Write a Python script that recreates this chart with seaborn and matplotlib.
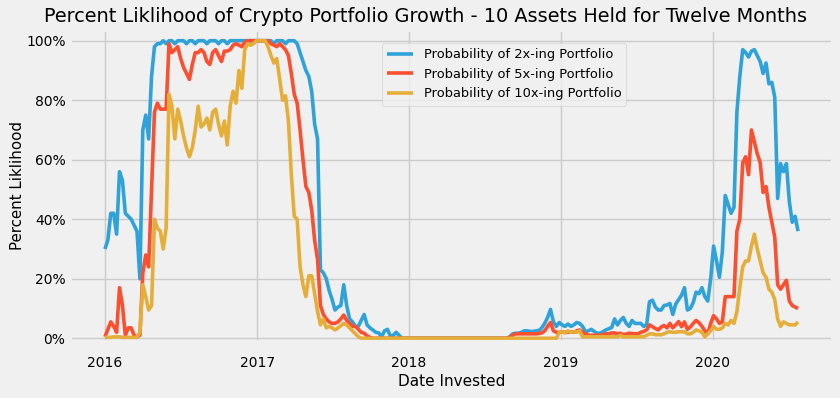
import pandas as pd
import matplotlib
matplotlib.use("Agg")
import matplotlib.pyplot as plt
import matplotlib.dates as mdates
from matplotlib.ticker import PercentFormatter
import seaborn as sns

plt.style.use("fivethirtyeight")

# weekly investment dates starting Jan 2016, values in percent
start_date = "2016-01-01"
labels = ["Probability of 2x-ing Portfolio",
          "Probability of 5x-ing Portfolio",
          "Probability of 10x-ing Portfolio"]
colors = ["#30a2da", "#fc4f30", "#e5ae38"]

p2x = [30, 33, 42, 42, 35, 56, 53, 42, 41, 40,
       38, 36, 20, 70, 75, 67, 88, 98, 99, 99,
       100, 99, 100, 100, 99, 100, 100, 100, 99, 100,
       100, 99, 100, 100, 100, 99, 100, 100, 100, 99,
       100, 100, 99, 100, 100, 100, 100, 100, 100, 100,
       100, 100, 100, 100, 100, 100, 100, 100, 99, 100,
       100, 100, 99, 100, 100, 100, 99, 96, 93, 90,
       88, 83, 72, 67, 23, 22, 20, 16, 13, 9.5,
       10.5, 11, 18, 11, 6.5, 5.5, 4, 4, 6, 8,
       4.5, 3.5, 2.8, 2, 1.8, 0.5, 2.5, 3, 0.8, 1,
       2, 1, 0, 0, 0, 0, 0, 0, 0, 0,
       0, 0, 0, 0, 0, 0, 0, 0, 0, 0,
       0, 0, 0, 0, 0, 0, 0, 0, 0, 0,
       0, 0, 0, 0, 0, 0, 0, 0, 0, 0.5,
       1.5, 1.7, 1.7, 2, 2.5, 2.5, 2.3, 2.3, 2.5, 2.6,
       3.5, 5, 7, 9.7, 5.5, 4, 5.3, 4.5, 4, 4.8,
       4, 4.5, 5.3, 5, 4, 2.2, 2.5, 3, 2.3, 1.7,
       1.7, 2.2, 2.8, 3.2, 3.6, 6.5, 4.5, 6, 7, 5,
       4, 6, 5, 5, 5, 4, 4.5, 12.3, 12.8, 10.5,
       9.5, 9.5, 11, 11.2, 11.7, 8, 11.5, 13, 14.5, 17,
       9.5, 10, 12, 15.5, 15, 17, 14, 12.5, 20, 31,
       26, 20.5, 29, 48, 45, 42, 44, 76, 88, 97,
       96, 94.5, 96.5, 97, 95, 93, 89, 92.5, 85.5, 86,
       81, 47, 58.7, 56, 58.7, 46, 39, 41, 36]

p5x = [0.5, 3, 5.5, 4, 2, 17, 11, 1, 3.5, 3.5,
       1, 0.5, 1, 22, 28, 24, 50, 76, 79, 77,
       77, 77, 99, 96, 97, 98, 94, 91, 89, 87,
       92, 96, 96, 97, 96, 93, 92, 96, 97, 95,
       93, 96.5, 96.5, 97, 98.5, 99, 98.5, 98, 99.5, 100,
       100, 100, 100, 100, 100, 100, 100, 99, 98.5, 98,
       99, 98, 97, 95, 89, 82, 79, 70, 60, 51,
       49, 43, 33, 26.5, 11, 8, 6.5, 5.5, 5, 5,
       5.5, 6.5, 7.8, 6, 5, 4, 4, 3, 2, 1.7,
       0.8, 0.3, 0, 0, 0, 0, 0, 0, 0, 0,
       0, 0, 0, 0, 0, 0, 0, 0, 0, 0,
       0, 0, 0, 0, 0, 0, 0, 0, 0, 0,
       0, 0, 0, 0, 0, 0, 0, 0, 0, 0,
       0, 0, 0, 0, 0, 0, 0, 0, 0, 0.3,
       1, 1.5, 1.5, 1.5, 1.5, 1.5, 1.5, 1.5, 1.5, 1.6,
       1.8, 2.5, 4, 5.3, 2.5, 2, 2, 2.2, 2, 2,
       2.2, 2, 2.5, 2.8, 2, 1.5, 1, 1, 1, 1,
       1, 1.2, 1.5, 1.5, 1.8, 1.8, 1.5, 1.7, 1.2, 1.4,
       1.7, 1.6, 1.5, 1.5, 2, 2.3, 2.8, 4.5, 3.9, 3.3,
       2.8, 3.8, 4.3, 3.5, 5, 3.5, 4.5, 5.6, 3.9, 5.5,
       3, 3.8, 5, 6, 5.2, 4, 2.5, 1.5, 5, 7.6,
       6.5, 5, 5.5, 14, 14, 14, 14, 36, 40, 59,
       61, 55, 70, 66, 62, 59, 49, 51, 44, 39,
       34, 18, 16.5, 18, 19.5, 12.5, 11, 10.5, 10]

p10x = [0.3, 0.3, 0.3, 0.5, 0.5, 0.5, 0.3, 0.3, 0.3, 0.3,
        0.3, 0.3, 2, 18, 14, 9.5, 11, 40, 37, 36,
        30, 37, 82, 78, 67, 77, 73, 68, 64, 61,
        64, 70, 78, 71, 72, 74, 70, 76, 77, 72,
        68, 73, 65, 78, 83, 79, 90, 84, 97, 99,
        98.5, 99, 100, 100, 100, 100, 98, 95, 92.5, 94,
        87, 80, 81.5, 73, 55, 41, 40, 24, 18, 14,
        21, 21, 15, 9, 4.5, 6.5, 3.5, 4, 3.5, 2.8,
        3.5, 4.2, 5, 4.5, 3.5, 2.5, 1.5, 0.5, 0, 0,
        0, 0, 0, 0, 0, 0, 0, 0, 0, 0,
        0, 0, 0, 0, 0, 0, 0, 0, 0, 0,
        0, 0, 0, 0, 0, 0, 0, 0, 0, 0,
        0, 0, 0, 0, 0, 0, 0, 0, 0, 0,
        0, 0, 0, 0, 0, 0, 0, 0, 0, 0,
        0, 0, 0, 0, 0, 0, 0, 0, 0, 0,
        0, 0, 0, 0, 0, 0, 2, 2.2, 1.8, 2.5,
        2, 2.2, 2, 2.5, 0.5, 0.5, 0.5, 0.5, 0.5, 0.5,
        0.5, 0.5, 0.5, 0.5, 0.5, 0.5, 0.5, 1, 0.5, 0.5,
        0.5, 0.5, 0.5, 0.5, 0.5, 0.5, 1, 1.5, 1.5, 1.2,
        1.2, 1.2, 1.5, 2, 2.2, 2, 2, 2.2, 2.2, 2.2,
        1.5, 1.5, 2, 2.8, 2.5, 2, 0.5, 1.5, 2.5, 4,
        3, 3, 3.5, 5, 4.5, 6, 5, 9, 17, 24,
        26, 26, 31, 35, 30, 26, 22, 20.5, 16.5, 15.5,
        13, 6.5, 4, 5.5, 5, 4.5, 4.5, 4.5, 5.5]

dates = pd.date_range(start_date, periods=len(p2x), freq="7D")
df = pd.DataFrame({"date": dates, labels[0]: p2x, labels[1]: p5x, labels[2]: p10x})
df = df.melt(id_vars="date", var_name="series", value_name="pct")

fig, ax = plt.subplots(figsize=(8.4, 3.98), dpi=100)
fig.subplots_adjust(left=70.3 / 840, right=832.7 / 840, top=1 - 30 / 398, bottom=1 - 342 / 398)

sns.lineplot(data=df, x="date", y="pct", hue="series", hue_order=labels,
             palette=colors, linewidth=2.6, ax=ax)

ax.set_ylim(-1.25, 103.6)
ax.set_yticks([0, 20, 40, 60, 80, 100])
ax.yaxis.set_major_formatter(PercentFormatter(decimals=0))
ax.xaxis.set_major_locator(mdates.YearLocator())
ax.xaxis.set_major_formatter(mdates.DateFormatter("%Y"))
ax.tick_params(labelsize=10)
ax.tick_params(axis="x", pad=10)

ax.set_title("Percent Liklihood of Crypto Portfolio Growth - 10 Assets Held for Twelve Months",
             fontsize=13.9, pad=6, x=0.4666)
ax.set_xlabel("Date Invested", fontsize=11, labelpad=3)
ax.set_ylabel("Percent Liklihood", fontsize=10.8, labelpad=1)

leg = ax.legend(loc="upper left", bbox_to_anchor=(0.4085, 0.958), borderaxespad=0,
                fontsize=9.4, title=None)

fig.savefig("out.png", dpi=100)
